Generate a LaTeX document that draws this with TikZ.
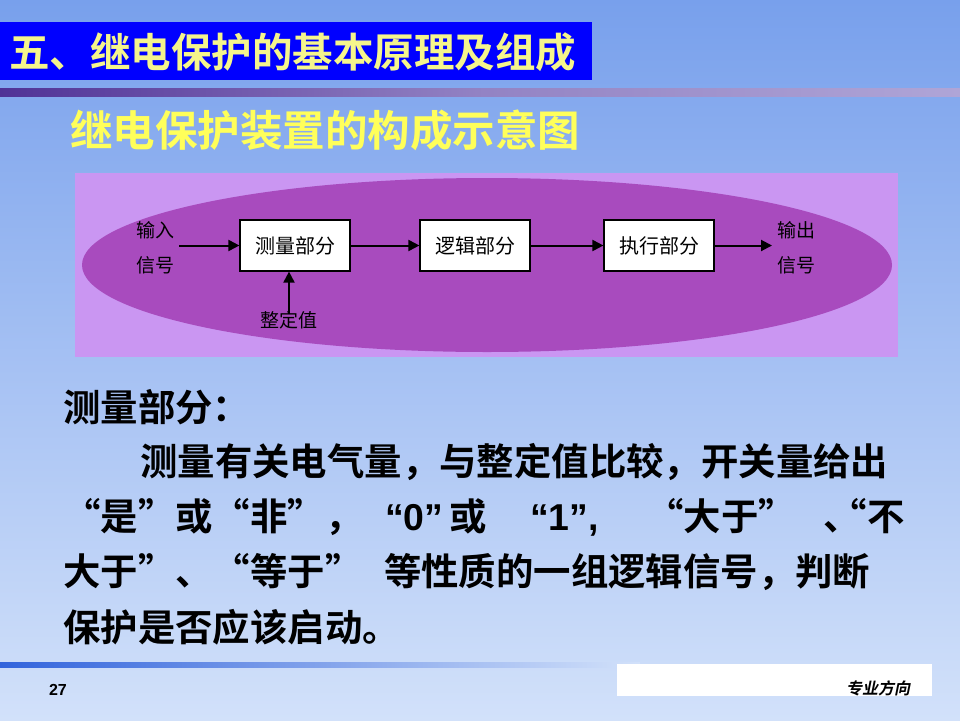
\documentclass[tikz,border=0pt]{standalone}
\usepackage{fontspec}
\setmainfont{Liberation Sans}
\newfontfamily\cjk{Noto Sans CJK SC}[BoldFont={Noto Sans CJK SC Bold}]
\newfontfamily\cjkit{Noto Sans CJK SC Bold}[FakeSlant=0.2]
\usetikzlibrary{arrows.meta}
\definecolor{bgtop}{RGB}{120,160,236}
\definecolor{bgbot}{RGB}{210,225,250}
\definecolor{titleblue}{RGB}{0,0,255}
\definecolor{titleyellow}{RGB}{245,245,140}
\definecolor{subyellow}{RGB}{255,255,90}
\definecolor{barleft}{RGB}{80,50,150}
\definecolor{barright}{RGB}{175,165,215}
\definecolor{diagbg}{RGB}{202,150,242}
\definecolor{ellcol}{RGB}{168,75,190}
\definecolor{footblue}{RGB}{50,100,220}
\newcommand\putat[2]{\makebox[0pt][l]{\hspace*{#1pt}#2}}
\tikzset{
  blockbox/.style={draw=black,line width=1.2pt,fill=white,minimum width=110pt,minimum height=51pt,inner sep=0pt,font=\cjk\fontsize{20}{20}\selectfont},
  sig/.style={font=\cjk\fontsize{19}{35}\selectfont,align=center,inner sep=0pt},
  flow/.style={draw=black,line width=2pt,-{Triangle[length=11pt,width=11pt]}},
  bodyline/.style={anchor=west,inner sep=0pt,font=\cjk\bfseries\fontsize{37.4}{37.4}\selectfont,text=black}
}
\begin{document}
\begin{tikzpicture}[x=1pt,y=-1pt]
\shade[top color=bgtop,bottom color=bgbot] (0,0) rectangle (960,720);
\useasboundingbox (0,0) rectangle (960,720);
% title
\fill[titleblue] (0,22) rectangle (592,80);
\node[anchor=west,inner sep=0pt,text=titleyellow,font=\cjk\bfseries\fontsize{40.5}{40.5}\selectfont] (title) at (9,52) {五、继电保护的基本原理及组成};
% bar
\shade[left color=barleft,right color=barright,middle color=barright!70!barleft] (0,88) rectangle (960,96);
% subtitle
\node[anchor=west,inner sep=0pt,text=subyellow,font=\cjk\bfseries\fontsize{42.5}{42.5}\selectfont] (sub) at (70,130) {继电保护装置的构成示意图};
% diagram
\fill[diagbg] (75,173) rectangle (898,357);
\fill[ellcol] (487,265) ellipse [x radius=405, y radius=87];
\node[blockbox] (b1) at (295,245.5) {测量部分};
\node[blockbox] (b2) at (475,245.5) {逻辑部分};
\node[blockbox] (b3) at (659,245.5) {执行部分};
\node[sig] (in) at (155,248) {输入\\信号};
\node[sig] (out) at (796,248) {输出\\信号};
\node[sig] (zdz) at (289,320) {整定值};
\coordinate (inS) at (179,245.5);
\coordinate (outE) at (772,245.5);
\draw[flow] (inS) -- (b1.west);
\draw[flow] (b1) -- (b2);
\draw[flow] (b2) -- (b3);
\draw[flow] (b3.east) -- (outE);
\draw[flow] ([yshift=-3pt]zdz.north) -- (zdz.north |- b1.south);
% body text
\node[bodyline] (l1) at (63,407) {测量部分：};
\node[bodyline] (l2) at (140,462) {测量有关电气量，与整定值比较，开关量给出};
\node[bodyline] (l3) at (63,517) {\putat{0}{“是”或“非”，}\putat{322}{{\rmfamily“0”}\kern6pt 或}\putat{467}{\rmfamily\bfseries“1”,}\putat{583}{“大于”}\putat{760}{、\kern-31pt“不}\hspace*{840pt}};
\node[bodyline] (l4) at (63,572) {大于”、“等于”\hspace{0.58em}等性质的一组逻辑信号，判断};
\node[bodyline] (l5) at (63,627) {保护是否应该启动。};
% footer
\shade[left color=footblue,right color=bgbot] (0,662) rectangle (640,667);
\fill[white] (617,664) rectangle (932,696);
\node[inner sep=0pt,font=\bfseries\fontsize{16}{16}\selectfont] (pg) at (58,690) {27};
\node[inner sep=0pt,font=\cjkit\fontsize{16}{16}\selectfont] (ft) at (878,688) {专业方向};
\end{tikzpicture}
\end{document}
